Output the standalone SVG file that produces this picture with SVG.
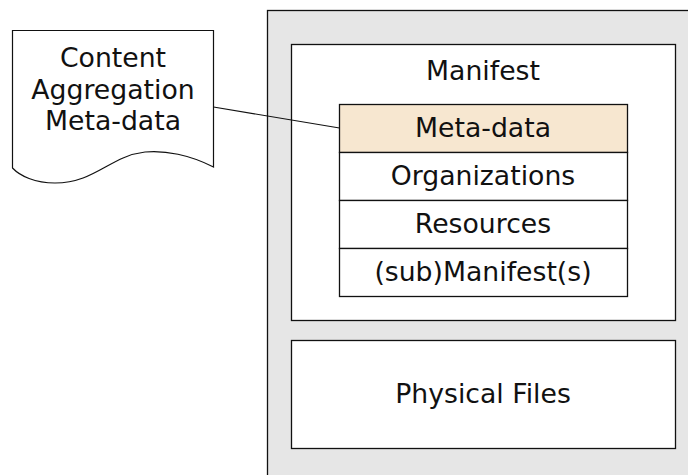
<svg xmlns="http://www.w3.org/2000/svg" width="688" height="475" viewBox="0 0 688 475">
<style>
text{font-family:"DejaVu Sans",Verdana,sans-serif;font-size:26.7px;fill:#111;text-anchor:middle}
.box{fill:#fff;stroke:#111;stroke-width:1.3}
</style>
<rect width="688" height="475" fill="#fff"/>
<g id="package">
<rect x="267.5" y="10.5" width="440" height="480" fill="#e6e6e6" stroke="#111" stroke-width="1.3"/>
</g>
<g id="manifest">
<rect class="box" x="291.5" y="44.5" width="384" height="276"/>
<text x="483" y="80">Manifest</text>
</g>
<g id="metadata">
<rect x="339.5" y="104.5" width="288" height="48" fill="#f7e7d0" stroke="#111" stroke-width="1.3"/>
<text x="483" y="137">Meta-data</text>
</g>
<g id="organizations">
<rect class="box" x="339.5" y="152.5" width="288" height="48"/>
<text x="483" y="185">Organizations</text>
</g>
<g id="resources">
<rect class="box" x="339.5" y="200.5" width="288" height="48"/>
<text x="483" y="233">Resources</text>
</g>
<g id="submanifest">
<rect class="box" x="339.5" y="248.5" width="288" height="48"/>
<text x="483" y="281">(sub)Manifest(s)</text>
</g>
<g id="physical">
<rect class="box" x="291.5" y="340.5" width="384" height="108"/>
<text x="483" y="403">Physical Files</text>
</g>
<g id="doc">
<path d="M12.5 30.5 H213.5 V167 C190 155 165 150 145 152 C110 156 95 183 55 183 C35 183 20 176 12.5 168 Z" fill="#fff" stroke="#111" stroke-width="1.2"/>
<text x="113" y="67">Content</text>
<text x="113" y="99">Aggregation</text>
<text x="113" y="130">Meta-data</text>
</g>
<g id="connectors">
<line x1="213.5" y1="107" x2="339.5" y2="128" stroke="#111" stroke-width="1.2"/>
</g>
</svg>
